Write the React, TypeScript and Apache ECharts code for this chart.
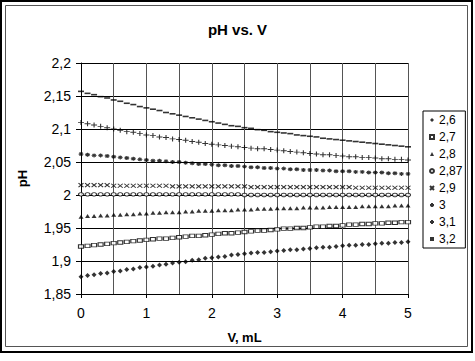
import React, { useEffect, useRef } from "react";
import * as echarts from "echarts";

const volume = [
  0, 0.1, 0.2, 0.3, 0.4, 0.5, 0.6, 0.7, 0.8, 0.9,
  1, 1.1, 1.2, 1.3, 1.4, 1.5, 1.6, 1.7, 1.8, 1.9,
  2, 2.1, 2.2, 2.3, 2.4, 2.5, 2.6, 2.7, 2.8, 2.9,
  3, 3.1, 3.2, 3.3, 3.4, 3.5, 3.6, 3.7, 3.8, 3.9,
  4, 4.1, 4.2, 4.3, 4.4, 4.5, 4.6, 4.7, 4.8, 4.9,
  5,
];

const seriesNames = ["2,6", "2,7", "2,8", "2,87", "2,9", "3", "3,1", "3,2"];

const ph26 = [
  1.876, 1.878, 1.879, 1.881, 1.882, 1.884, 1.885, 1.887, 1.888, 1.890,
  1.891, 1.892, 1.894, 1.895, 1.897, 1.898, 1.899, 1.901, 1.902, 1.904,
  1.905, 1.906, 1.907, 1.909, 1.910, 1.911, 1.912, 1.913, 1.913, 1.914,
  1.915, 1.916, 1.917, 1.917, 1.918, 1.919, 1.920, 1.921, 1.921, 1.922,
  1.923, 1.924, 1.924, 1.925, 1.925, 1.926, 1.927, 1.927, 1.928, 1.928,
  1.929,
];
const ph27 = [
  1.922, 1.923, 1.924, 1.925, 1.926, 1.927, 1.928, 1.929, 1.930, 1.931,
  1.932, 1.933, 1.934, 1.934, 1.935, 1.936, 1.937, 1.938, 1.938, 1.939,
  1.940, 1.941, 1.942, 1.942, 1.943, 1.944, 1.945, 1.946, 1.946, 1.947,
  1.948, 1.949, 1.949, 1.950, 1.950, 1.951, 1.952, 1.952, 1.953, 1.953,
  1.954, 1.955, 1.955, 1.956, 1.956, 1.957, 1.957, 1.958, 1.958, 1.959,
  1.959,
];
const ph28 = [
  1.967, 1.968, 1.968, 1.969, 1.969, 1.970, 1.970, 1.971, 1.971, 1.972,
  1.972, 1.973, 1.973, 1.974, 1.974, 1.974, 1.975, 1.975, 1.976, 1.976,
  1.976, 1.977, 1.977, 1.977, 1.978, 1.978, 1.978, 1.979, 1.979, 1.979,
  1.980, 1.980, 1.980, 1.980, 1.981, 1.981, 1.981, 1.981, 1.982, 1.982,
  1.982, 1.982, 1.982, 1.983, 1.983, 1.983, 1.983, 1.983, 1.984, 1.984,
  1.984,
];
const ph287 = [
  2.001, 2.001, 2.001, 2.001, 2.001, 2.001, 2.001, 2.001, 2.001, 2.001,
  2.001, 2.001, 2.001, 2.001, 2.001, 2.001, 2.001, 2.001, 2.001, 2.001,
  2.001, 2.001, 2.001, 2.001, 2.001, 2.000, 2.000, 2.000, 2.000, 2.000,
  2.000, 2.000, 2.000, 2.000, 2.000, 2.000, 2.000, 2.000, 2.000, 2.000,
  2.000, 2.000, 2.000, 2.000, 2.000, 2.000, 2.000, 2.000, 2.000, 2.000,
  2.000,
];
const ph29 = [
  2.015, 2.015, 2.015, 2.015, 2.015, 2.014, 2.014, 2.014, 2.014, 2.014,
  2.014, 2.014, 2.014, 2.014, 2.013, 2.013, 2.013, 2.013, 2.013, 2.013,
  2.013, 2.013, 2.013, 2.013, 2.013, 2.013, 2.012, 2.012, 2.012, 2.012,
  2.012, 2.012, 2.012, 2.012, 2.012, 2.012, 2.012, 2.012, 2.012, 2.012,
  2.012, 2.012, 2.011, 2.011, 2.011, 2.011, 2.011, 2.011, 2.011, 2.011,
  2.011,
];
const ph30 = [
  2.062, 2.061, 2.060, 2.060, 2.059, 2.058, 2.057, 2.056, 2.055, 2.054,
  2.053, 2.052, 2.052, 2.051, 2.050, 2.050, 2.049, 2.048, 2.047, 2.047,
  2.046, 2.045, 2.045, 2.044, 2.044, 2.043, 2.042, 2.042, 2.041, 2.041,
  2.040, 2.040, 2.039, 2.039, 2.038, 2.038, 2.038, 2.037, 2.037, 2.036,
  2.036, 2.036, 2.035, 2.035, 2.034, 2.034, 2.034, 2.033, 2.033, 2.032,
  2.032,
];
const ph31 = [
  2.110, 2.108, 2.106, 2.104, 2.102, 2.100, 2.098, 2.096, 2.095, 2.093,
  2.091, 2.090, 2.088, 2.087, 2.085, 2.084, 2.083, 2.081, 2.080, 2.078,
  2.077, 2.076, 2.075, 2.074, 2.073, 2.072, 2.071, 2.070, 2.070, 2.069,
  2.068, 2.067, 2.066, 2.065, 2.064, 2.063, 2.062, 2.061, 2.061, 2.060,
  2.059, 2.058, 2.058, 2.057, 2.057, 2.056, 2.055, 2.055, 2.054, 2.054,
  2.053,
];
const ph32 = [
  2.157, 2.154, 2.152, 2.149, 2.147, 2.144, 2.142, 2.139, 2.137, 2.134,
  2.132, 2.130, 2.128, 2.125, 2.123, 2.121, 2.119, 2.117, 2.115, 2.113,
  2.111, 2.109, 2.107, 2.105, 2.104, 2.102, 2.101, 2.099, 2.098, 2.096,
  2.095, 2.094, 2.093, 2.091, 2.090, 2.089, 2.088, 2.086, 2.085, 2.084,
  2.083, 2.082, 2.081, 2.080, 2.079, 2.078, 2.077, 2.076, 2.075, 2.074,
  2.073,
];

const seriesValues = [ph26, ph27, ph28, ph287, ph29, ph30, ph31, ph32];

const FONT = "'Liberation Sans', Arial, sans-serif";

const markerStyles: any[] = [
  { symbol: "diamond", symbolSize: 5, itemStyle: { color: "#000" } },
  { symbol: "rect", symbolSize: [5, 3.5], itemStyle: { color: "#fff", borderColor: "#000", borderWidth: 1 } },
  { symbol: "triangle", symbolSize: [5, 4], itemStyle: { color: "#000" } },
  { symbol: "circle", symbolSize: [5, 3.5], itemStyle: { color: "#fff", borderColor: "#000", borderWidth: 1 } },
  { symbol: "path://M0,0L10,10M10,0L0,10", symbolSize: [5, 4], itemStyle: { color: "#000", borderColor: "#000", borderWidth: 1 } },
  { symbol: "path://M5,0L5,10M0,5L10,5M1.5,1.5L8.5,8.5M8.5,1.5L1.5,8.5", symbolSize: [5, 4], itemStyle: { color: "#000", borderColor: "#000", borderWidth: 1 } },
  { symbol: "path://M5,0L5,10M0,5L10,5", symbolSize: [6, 5], itemStyle: { color: "#000", borderColor: "#000", borderWidth: 1 } },
  { symbol: "rect", symbolSize: [6, 1.6], itemStyle: { color: "#000" } },
];

const fmt = (v: number) => String(Math.round(v * 100) / 100).replace(".", ",");

export default function App() {
  const ref = useRef<HTMLDivElement>(null);
  useEffect(() => {
    const chart = echarts.init(ref.current!, null, { renderer: "svg" });
    const series = seriesNames.map((name, i) => ({
      name,
      type: "scatter",
      data: volume.map((v, j) => [v, seriesValues[i][j]]),
      ...markerStyles[i],
      emphasis: { disabled: true },
    }));
    chart.setOption({
      animation: false,
      backgroundColor: "#fff",
      textStyle: { fontFamily: FONT, color: "#000" },
      title: {
        text: "pH vs. V",
        left: "center",
        top: 17,
        textStyle: { fontFamily: FONT, fontSize: 15, fontWeight: "bold", color: "#000" },
      },
      legend: {
        orient: "vertical",
        left: 423,
        top: 111,
        padding: [3, 3, 3, 6],
        itemWidth: 4,
        itemHeight: 4,
        itemGap: 5,
        borderColor: "#000",
        borderWidth: 1,
        backgroundColor: "#fff",
        selectedMode: false,
        textStyle: { fontFamily: FONT, fontSize: 12, color: "#000", lineHeight: 12 },
        data: seriesNames,
      },
      grid: { left: 81, top: 63, width: 327, height: 231, containLabel: false },
      xAxis: {
        type: "value",
        min: 0,
        max: 5,
        interval: 1,
        name: "V, mL",
        nameLocation: "middle",
        nameGap: 37,
        nameTextStyle: { fontFamily: FONT, fontSize: 13, fontWeight: "bold", color: "#000" },
        axisLine: { show: true, lineStyle: { color: "#000", width: 1 } },
        axisTick: { show: true, length: 4, lineStyle: { color: "#000" } },
        axisLabel: { margin: 12, fontFamily: FONT, fontSize: 14, color: "#000" },
        splitLine: { show: true, lineStyle: { color: "#555", width: 1 } },
        minorTick: { show: false, splitNumber: 2 },
        minorSplitLine: { show: true, lineStyle: { color: "#555", width: 1 } },
      },
      yAxis: {
        type: "value",
        min: 1.85,
        max: 2.2,
        interval: 0.05,
        name: "pH",
        nameLocation: "middle",
        nameRotate: 90,
        nameGap: 52,
        nameTextStyle: { fontFamily: FONT, fontSize: 13, fontWeight: "bold", color: "#000" },
        axisLine: { show: true, lineStyle: { color: "#000", width: 1 } },
        axisTick: { show: true, length: 5, lineStyle: { color: "#000" } },
        axisLabel: { margin: 10, fontFamily: FONT, fontSize: 14, color: "#000", formatter: fmt },
        splitLine: { show: true, lineStyle: { color: "#000", width: 1 } },
      },
      graphic: [
        { type: "rect", shape: { x: 1, y: 1, width: 471, height: 351 }, style: { fill: "none", stroke: "#000", lineWidth: 2 }, silent: true },
        { type: "rect", shape: { x: 5.5, y: 5.5, width: 462, height: 341 }, style: { fill: "none", stroke: "#555", lineWidth: 1 }, silent: true },
      ],
      series,
    });
    return () => chart.dispose();
  }, []);
  return (
    <div
      ref={ref}
      style={{ position: "absolute", left: 0, top: 0, width: 475, height: 361, background: "#fff" }}
    />
  );
}
